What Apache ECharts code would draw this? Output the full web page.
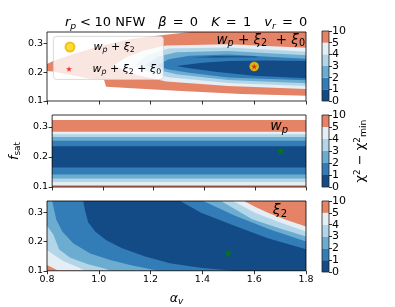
<!DOCTYPE html>
<html><head><meta charset="utf-8">
<script src="https://cdn.jsdelivr.net/npm/echarts@6/dist/echarts.min.js"></script>
<style>html,body{margin:0;padding:0;background:#fff}#c{width:395px;height:307px}</style>
</head><body><div id="c"></div>
<script>
// ---------------- data (alpha_v, f_sat) ----------------
const xTicks = [0.8, 1.0, 1.2, 1.4, 1.6, 1.8];
const yTicks = [0.1, 0.2, 0.3];
const levelTicks = [0, 1, 2, 3, 4, 5, 6];
const levelLabels = ['0', '1', '2', '3', '4', '5', '10'];
const levelColors = ['#134b86', '#327cb8', '#6bacd0', '#b2d5e7', '#e4eef4', '#e58367']; // 0-1 ... 5-10

// Panel 1 : w_p + xi_2 + xi_0  (closed contour regions chi2 <= level)
const comb_le10 = [[0.8,0.229],[0.824,0.239],[0.89,0.26],[1.006,0.291],[1.121,0.316],[1.249,0.330],[1.353,0.34],[1.8,0.34],[1.8,0.118],[1.55,0.124],[1.3,0.136],[1.028,0.15],[1.02,0.175],[0.96,0.178],[0.824,0.203],[0.8,0.204]];
const comb_le5 = [[1.06,0.225],[1.1,0.25],[1.17,0.275],[1.26,0.293],[1.5,0.297],[1.8,0.285],[1.8,0.142],[1.5,0.152],[1.26,0.168],[1.15,0.19],[1.09,0.21]];
const comb_le4 = [[1.14,0.226],[1.19,0.26],[1.27,0.283],[1.5,0.286],[1.8,0.271],[1.8,0.152],[1.5,0.163],[1.27,0.183],[1.19,0.203]];
const comb_le3 = [[1.18,0.224],[1.23,0.255],[1.3,0.27],[1.5,0.274],[1.8,0.259],[1.8,0.162],[1.5,0.173],[1.3,0.193],[1.23,0.208]];
const comb_le2 = [[1.22,0.222],[1.27,0.245],[1.35,0.257],[1.5,0.262],[1.8,0.247],[1.8,0.172],[1.5,0.182],[1.35,0.198],[1.27,0.21]];
const comb_le1 = [[1.3,0.222],[1.4,0.233],[1.5,0.239],[1.65,0.241],[1.8,0.239],[1.8,0.179],[1.6,0.188],[1.45,0.202],[1.35,0.214]];
const comb_le1_streak = [[1.36,0.252],[1.45,0.256],[1.6,0.255],[1.62,0.252],[1.45,0.251]];
const comb_best = [1.6, 0.22];

// Panel 2 : w_p  (horizontal bands, upper / lower f_sat for levels 10,5,4,3,2,1)
const wp_hi = [0.323, 0.284, 0.276, 0.267, 0.254, 0.236];
const wp_lo = [0.1, 0.106, 0.117, 0.128, 0.142, 0.165];
const wp_best = [1.7, 0.22];

// Panel 3 : xi_2
const xi2_le10 = [[0.8,0.1],[1.8,0.1],[1.8,0.34],[0.8,0.34]];
const xi2_le5 = [[0.8,0.34],[0.8,0.12],[0.844,0.1],[1.8,0.1],[1.8,0.252],[1.719,0.276],[1.653,0.2995],[1.603,0.32],[1.561,0.34]];
const xi2_le4 = [[0.8,0.34],[0.8,0.171],[0.832,0.152],[0.864,0.133],[0.916,0.1135],[0.948,0.1],[1.8,0.1],[1.8,0.235],[1.692,0.269],[1.603,0.2995],[1.518,0.34]];
const xi2_le3 = [[0.8,0.34],[0.8,0.2545],[0.825,0.2235],[0.847,0.1727],[0.89,0.1446],[0.959,0.122],[1.025,0.107],[1.044,0.1],[1.8,0.1],[1.8,0.218],[1.70,0.245],[1.592,0.2775],[1.472,0.34]];
const xi2_le2 = [[0.82,0.34],[0.836,0.2758],[0.859,0.2353],[0.901,0.1947],[0.967,0.159],[1.044,0.137],[1.121,0.12],[1.229,0.1],[1.8,0.1],[1.8,0.201],[1.661,0.242],[1.526,0.289],[1.403,0.34]];
const xi2_le1 = [[0.94,0.34],[0.948,0.3028],[0.959,0.2667],[0.986,0.235],[1.029,0.2048],[1.09,0.1778],[1.179,0.149],[1.275,0.1254],[1.391,0.11],[1.518,0.1],[1.8,0.1],[1.8,0.174],[1.653,0.2115],[1.526,0.254],[1.395,0.2995],[1.314,0.34]];
const xi2_best = [1.5, 0.16];

// ---------------- chart ----------------
const FONT = 'DejaVu Sans';
const STAR = 'path://M50,0 L61.2,34.5 L97.6,34.5 L68.2,55.9 L79.4,90.5 L50,69.1 L20.6,90.5 L31.8,55.9 L2.4,34.5 L38.8,34.5 Z';
const X_MIN = 0.8, X_MAX = 1.8, Y_MIN = 0.1, Y_MAX = 0.34;
const panels = [{top: 32, height: 69}, {top: 115, height: 72}, {top: 201, height: 71}];
const cbars = [{top: 31, height: 70}, {top: 115, height: 72}, {top: 201, height: 71}];

const base = {fontFamily: FONT, color: '#000', fontWeight: 'normal', verticalAlign: 'middle'};
function richSized(sz) {
  const k = sz / 14;
  return {
    n: Object.assign({}, base, {fontSize: 14 * k}),
    i: Object.assign({}, base, {fontSize: 14 * k, fontStyle: 'italic'}),
    s: Object.assign({}, base, {fontSize: 10 * k, fontStyle: 'italic', padding: [7 * k, 0, 0, 0]}),
    d: Object.assign({}, base, {fontSize: 10 * k, padding: [7 * k, 0, 0, 0]}),
    u: Object.assign({}, base, {fontSize: 9.5 * k, padding: [0, 0, 7 * k, 0]}),
    q: {width: 4 * k},
    e: {width: 6.2},
    g: {width: 14 * k}
  };
}

const grid = [], xAxis = [], yAxis = [], series = [];
panels.forEach((p, k) => {
  grid.push({left: 47, width: 259, top: p.top, height: p.height, show: true, borderColor: '#000', borderWidth: 0.8, backgroundColor: 'transparent', z: 10});
  xAxis.push({gridIndex: k, type: 'value', min: X_MIN, max: X_MAX, interval: 0.2, z: 10,
    axisLine: {show: false}, splitLine: {show: false},
    axisTick: {show: true, inside: false, length: 3.5, lineStyle: {color: '#000', width: 0.8}, customValues: xTicks},
    axisLabel: {show: k === 2, fontFamily: FONT, fontSize: 9.5, color: '#000', margin: 4, formatter: v => v.toFixed(1), customValues: xTicks},
    name: k === 2 ? '{i|α}{s|v}' : '', nameLocation: 'middle', nameGap: 20,
    nameTextStyle: {rich: richSized(12.5)}
  });
  yAxis.push({gridIndex: k, type: 'value', min: Y_MIN, max: Y_MAX, interval: 0.1, z: 10,
    axisLine: {show: false}, splitLine: {show: false},
    axisTick: {show: true, inside: false, length: 3.5, lineStyle: {color: '#000', width: 0.8}, customValues: yTicks},
    axisLabel: {fontFamily: FONT, fontSize: 9.5, color: '#000', margin: 4, formatter: v => v.toFixed(1), customValues: yTicks},
    name: k === 1 ? '{i|f}{d|sat}' : '', nameLocation: 'middle', nameGap: 28, nameRotate: 90,
    nameTextStyle: {rich: richSized(12.5)}
  });
});
// colorbars
cbars.forEach((p, k) => {
  grid.push({left: 322, width: 7, top: p.top, height: p.height, show: true, borderColor: '#222', borderWidth: 0.8, backgroundColor: 'transparent', z: 10});
  xAxis.push({gridIndex: 3 + k, type: 'category', data: [''], show: false});
  yAxis.push({gridIndex: 3 + k, type: 'value', min: 0, max: 6, interval: 1, position: 'right', z: 10,
    axisLine: {show: false}, splitLine: {show: false},
    axisTick: {show: true, inside: false, length: 3, lineStyle: {color: '#000', width: 0.8}},
    axisLabel: {fontFamily: FONT, fontSize: 11, lineHeight: 9, color: '#000', margin: 3, showMinLabel: true, showMaxLabel: true,
      hideOverlap: false, formatter: v => levelLabels[Math.round(v)]},
    name: k === 1 ? '{n|χ}{u|2}{n| − χ}{u|2}{d|min}' : '', nameLocation: 'middle', nameGap: 24, nameRotate: 90,
    nameTextStyle: {rich: richSized(13)}
  });
  levelColors.forEach((c, i) => {
    series.push({type: 'bar', xAxisIndex: 3 + k, yAxisIndex: 3 + k, stack: 'cb' + k, data: [1], barWidth: '100%',
      itemStyle: {color: c}, silent: true, animation: false});
  });
});

function poly(points, color, k) {
  series.push({type: 'custom', xAxisIndex: k, yAxisIndex: k, clip: true, silent: true, animation: false,
    data: [points[0]], encode: {x: 0, y: 1},
    renderItem: function (params, api) {
      return {type: 'polygon', shape: {points: points.map(p => api.coord(p))}, style: {fill: color}};
    }});
}
// panel 1
[comb_le10, comb_le5, comb_le4, comb_le3, comb_le2, comb_le1].forEach((pts, i) => poly(pts, levelColors[5 - i], 0));
poly(comb_le1_streak, levelColors[0], 0);
// panel 2
wp_hi.forEach((hi, i) => {
  const lo = wp_lo[i];
  poly([[X_MIN, lo], [X_MAX, lo], [X_MAX, hi], [X_MIN, hi]], levelColors[5 - i], 1);
});
// panel 3
[xi2_le10, xi2_le5, xi2_le4, xi2_le3, xi2_le2, xi2_le1].forEach((pts, i) => poly(pts, levelColors[5 - i], 2));

// best-fit markers
series.push({name: 'A', type: 'scatter', xAxisIndex: 0, yAxisIndex: 0, data: [comb_best], symbol: 'circle', symbolSize: 9, z: 5,
  itemStyle: {color: '#ffd700', borderColor: '#f0b400', borderWidth: 0.6}, silent: true, animation: false});
series.push({name: 'B', type: 'scatter', xAxisIndex: 0, yAxisIndex: 0, data: [comb_best], symbol: STAR, symbolSize: 6, z: 6,
  itemStyle: {color: '#ff0000'}, silent: true, animation: false});
series.push({type: 'scatter', xAxisIndex: 1, yAxisIndex: 1, data: [wp_best], symbol: STAR, symbolSize: 8, z: 5,
  itemStyle: {color: '#008000'}, silent: true, animation: false});
series.push({type: 'scatter', xAxisIndex: 2, yAxisIndex: 2, data: [xi2_best], symbol: STAR, symbolSize: 8, z: 5,
  itemStyle: {color: '#008000'}, silent: true, animation: false});

const legendRich = Object.assign(richSized(11), {sp: {width: 14}});
const legendText = {A: '{sp|}{i|w}{s|p}{n| + }{i|ξ}{d|2}', B: '{sp|}{i|w}{s|p}{n| + }{i|ξ}{d|2}{n| + }{i|ξ}{d|0}'};
const titleRich = richSized(13);

const option = {
  animation: false,
  grid, xAxis, yAxis, series,
  title: [
    {text: '{i|r}{s|p}{q|}{n|<}{q|}{n|10 NFW}{g|}{i|β}{e|}{n|=}{e|}{n|0}{g|}{i|K}{e|}{n|=}{e|}{n|1}{g|}{i|v}{s|r}{e|}{n|=}{e|}{n|0}',
      left: 65, top: 14, padding: 0, textStyle: {fontWeight: 'normal', rich: titleRich}},
    {text: '{i|w}{s|p}{n| + }{i|ξ}{d|2}{n|  + }{i|ξ}{d|0}', right: 90, top: 32, padding: 0, textStyle: {fontWeight: 'normal', rich: richSized(13.5)}},
    {text: '{i|w}{s|p}', right: 107, top: 118, padding: 0, textStyle: {fontWeight: 'normal', rich: richSized(14)}},
    {text: '{i|ξ}{d|2}', right: 108, top: 202, padding: 0, textStyle: {fontWeight: 'normal', rich: richSized(14)}}
  ],
  legend: [
    {data: [{name: 'A', icon: 'circle'}], left: 64.5, top: 41, padding: 0, itemWidth: 9, itemHeight: 9, z: 60,
      formatter: n => legendText[n], textStyle: {rich: legendRich}, selectedMode: false},
    {data: [{name: 'B', icon: STAR}], left: 66, top: 63, padding: 0, itemWidth: 6, itemHeight: 6, z: 60,
      formatter: n => legendText[n], textStyle: {rich: Object.assign({}, legendRich, {sp: {width: 15.5}})}, selectedMode: false}
  ],
  graphic: [{type: 'rect', left: 53, top: 36, z: 50, shape: {width: 110, height: 43, r: 3},
    style: {fill: 'rgba(255,255,255,0.8)', stroke: '#d0d0d0', lineWidth: 0.8}}]
};
const chart = echarts.init(document.getElementById('c'), null, {renderer: 'canvas'});
chart.setOption(option);
</script>
</body></html>
